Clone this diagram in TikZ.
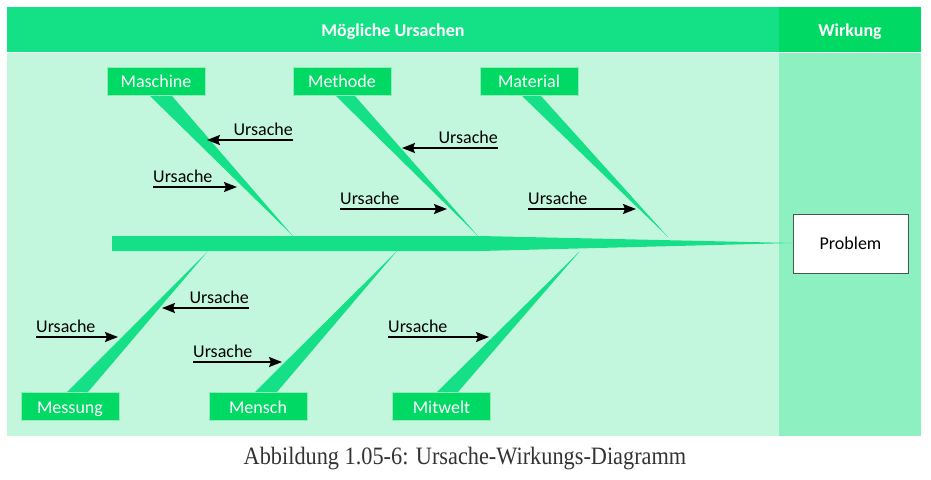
\documentclass[tikz,border=0pt]{standalone}
\usepackage{fontspec}
\setmainfont{Carlito}
\newfontfamily\capfont{Liberation Serif}
\usetikzlibrary{arrows.meta}
\definecolor{hdrL}{RGB}{20,224,133}
\definecolor{hdrR}{RGB}{0,217,100}
\definecolor{bodyL}{RGB}{194,247,222}
\definecolor{bodyR}{RGB}{141,240,193}
\definecolor{bone}{RGB}{22,224,135}
\definecolor{catbox}{RGB}{0,217,100}
\definecolor{probborder}{RGB}{70,90,80}
\begin{document}
\begin{tikzpicture}[x=1pt,y=-1pt,
  txt/.style={font=\fontsize{18}{20}\selectfont},
  cat/.style={txt, fill=catbox, draw=white!55!catbox, line width=0.8pt,
    minimum width=98pt, minimum height=28pt, inner sep=0pt, text=white,
    text height=13pt, text depth=0pt},
  hdr/.style={font=\bfseries\fontsize{18}{20}\selectfont, text=white,
    text height=13pt, text depth=0pt},
  clabel/.style={txt, inner sep=0pt},
  cause/.style={line width=1.8pt, -{Stealth[length=13pt,width=10pt,inset=2pt]}},
  bonefill/.style={fill=bone}]
\useasboundingbox (0,0) rectangle (931,479);
% background panels
\fill[hdrL] (7,7) rectangle (779,52);
\fill[hdrR] (779,7) rectangle (921,52);
\fill[bodyL] (7,53) rectangle (779,436);
\fill[bodyR] (779,53) rectangle (921,436);
\node[hdr] (hL) at (393,30) {Mögliche Ursachen};
\node[hdr] (hR) at (850,30) {Wirkung};
% spine
\fill[bonefill] (112,236) -- (480,236) -- (793,243) -- (480,251) -- (112,251) -- cycle;
% upper bones
\fill[bonefill] (150,96) -- (172,96) -- (293,236) -- cycle;
\fill[bonefill] (336,96) -- (355,96) -- (478,236) -- cycle;
\fill[bonefill] (522,96) -- (541,96) -- (668,237) -- cycle;
% lower bones
\fill[bonefill] (67,392) -- (88,392) -- (208,251) -- cycle;
\fill[bonefill] (255,392) -- (277,392) -- (397,251) -- cycle;
\fill[bonefill] (437,392) -- (458,392) -- (580,251) -- cycle;
% category boxes
\node[cat] (maschine) at (156,81) {Maschine};
\node[cat] (methode) at (342,81) {Methode};
\node[cat] (material) at (529,81) {Material};
\node[cat] (messung) at (70,406.5) {Messung};
\node[cat] (mensch) at (258,406.5) {Mensch};
\node[cat] (mitwelt) at (441.5,406.5) {Mitwelt};
% problem
\node[txt, draw=probborder, fill=white, line width=1pt, minimum width=115pt, minimum height=59pt, inner sep=0pt] (problem) at (850.5,243.5) {Problem};
% causes
\node[clabel, anchor=base east] (u1) at (293,135) {Ursache};
\coordinate (u1a) at (293,140); \coordinate (u1b) at (207,140);
\draw[cause] (u1a) -- (u1b);
\node[clabel, anchor=base west] (u2) at (153,182) {Ursache};
\coordinate (u2a) at (153,187); \coordinate (u2b) at (237,187);
\draw[cause] (u2a) -- (u2b);
\node[clabel, anchor=base east] (u3) at (498,143) {Ursache};
\coordinate (u3a) at (498,148); \coordinate (u3b) at (402,148);
\draw[cause] (u3a) -- (u3b);
\node[clabel, anchor=base west] (u4) at (340,204) {Ursache};
\coordinate (u4a) at (340,209); \coordinate (u4b) at (447,209);
\draw[cause] (u4a) -- (u4b);
\node[clabel, anchor=base west] (u5) at (528,204) {Ursache};
\coordinate (u5a) at (528,209); \coordinate (u5b) at (636,209);
\draw[cause] (u5a) -- (u5b);
\node[clabel, anchor=base west] (u6) at (36,332) {Ursache};
\coordinate (u6a) at (36,337); \coordinate (u6b) at (118,337);
\draw[cause] (u6a) -- (u6b);
\node[clabel, anchor=base east] (u7) at (249,303) {Ursache};
\coordinate (u7a) at (249,308); \coordinate (u7b) at (162,308);
\draw[cause] (u7a) -- (u7b);
\node[clabel, anchor=base west] (u8) at (193,357) {Ursache};
\coordinate (u8a) at (193,362); \coordinate (u8b) at (282,362);
\draw[cause] (u8a) -- (u8b);
\node[clabel, anchor=base west] (u9) at (388,332) {Ursache};
\coordinate (u9a) at (388,337); \coordinate (u9b) at (489,337);
\draw[cause] (u9a) -- (u9b);
% caption
\node[inner sep=0pt, anchor=base, text=black!80] (caption) at (465,464) {\scalebox{1}[1.12]{\capfont\fontsize{22.3}{24}\selectfont Abbildung 1.05-6: Ursache-Wirkungs-Diagramm}};
\end{tikzpicture}
\end{document}
